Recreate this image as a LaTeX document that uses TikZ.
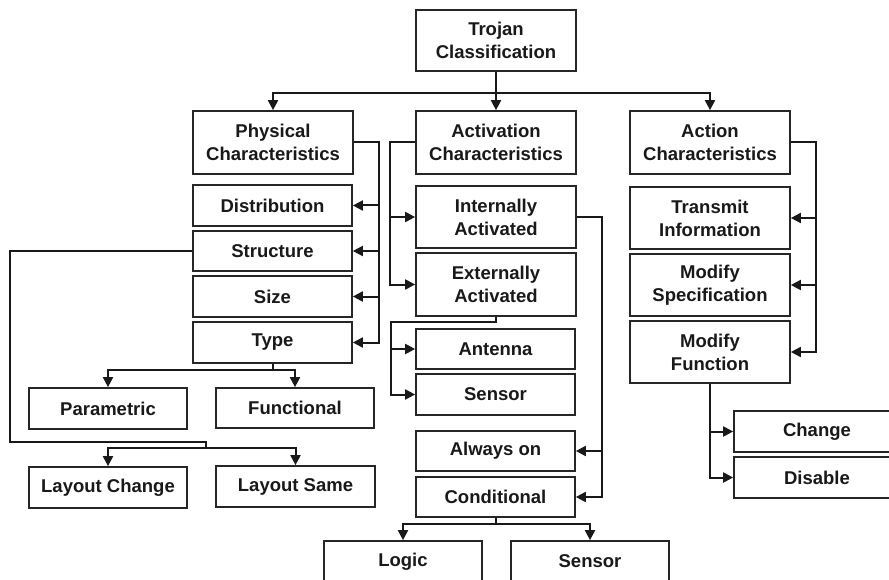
\documentclass[tikz,border=0pt]{standalone}
\usepackage{fontspec}
\setmainfont{Liberation Sans}
\usetikzlibrary{arrows.meta}
\begin{document}
\begin{tikzpicture}[x=1pt,y=1pt,
  box/.style={draw=black!85, line width=1.7pt, fill=white, inner sep=0pt, align=center,
    font=\fontsize{18.5}{23}\selectfont\bfseries, text=black!90},
  bw/.style={minimum width=160pt, minimum height=63pt},
  sw/.style={minimum width=159pt, minimum height=41pt},
  conn/.style={line width=2pt, draw=black!90},
  arr/.style={conn, -{Triangle[length=10pt,width=10pt]}}]
\useasboundingbox (0,0) rectangle (889,-580);
\clip (0,0) rectangle (889,-580);
% level 0/1
\node[box,minimum width=160pt,minimum height=61pt] (troj) at (496,-40.5) {Trojan\\Classification};
\node[box,bw] (phys) at (273,-142.5) {Physical\\Characteristics};
\node[box,bw] (act) at (496,-142.5) {Activation\\Characteristics};
\node[box,bw] (action) at (710,-142.5) {Action\\Characteristics};
% physical
\node[box,sw] (dist) at (272.5,-205.5) {Distribution};
\node[box,sw,minimum height=40pt] (struct) at (272.5,-251) {Structure};
\node[box,sw] (size) at (272.5,-296.5) {Size};
\node[box,sw] (type) at (272.5,-342.5) {Type};
\node[box,sw,minimum width=158pt] (param) at (108,-408.5) {Parametric};
\node[box,sw,minimum width=158pt,minimum height=40pt] (func) at (295,-408) {Functional};
\node[box,sw,minimum width=158pt] (lchange) at (108,-487.5) {Layout Change};
\node[box,sw] (lsame) at (295.5,-486.5) {Layout Same};
% activation
\node[box,minimum width=160pt,minimum height=62pt] (intact) at (496,-217) {Internally\\Activated};
\node[box,bw] (extact) at (496,-284.5) {Externally\\Activated};
\node[box,sw,minimum height=40pt] (antenna) at (495.5,-349) {Antenna};
\node[box,sw] (sensorA) at (495.5,-394.5) {Sensor};
\node[box,sw,minimum height=40pt] (always) at (495.5,-451) {Always on};
\node[box,sw,minimum height=40pt] (cond) at (495.5,-497) {Conditional};
\node[box,sw,minimum width=158pt] (logic) at (403,-561.5) {Logic};
\node[box,sw,minimum width=158pt] (sensorB) at (590,-561.5) {Sensor};
% action
\node[box,minimum width=160pt,minimum height=62pt] (transmit) at (710,-218) {Transmit\\Information};
\node[box,minimum width=160pt,minimum height=62pt] (modspec) at (710,-285) {Modify\\Specification};
\node[box,minimum width=160pt,minimum height=62pt] (modfunc) at (710,-352) {Modify\\Function};
\node[box,sw,minimum width=166pt] (change) at (817,-431.5) {Change};
\node[box,sw,minimum width=166pt] (disable) at (817,-477.5) {Disable};
% connectors: top
\coordinate (j1) at (496,-93);
\draw[conn] (troj.south) -- (j1);
\draw[arr] (j1) -| (phys.north);
\draw[arr] (j1) -- (act.north);
\draw[arr] (j1) -| (action.north);
% physical bus
\draw[arr] (phys.east) -- ++(25,0) |- (dist.east);
\draw[arr] (phys.east) -- ++(25,0) |- (struct.east);
\draw[arr] (phys.east) -- ++(25,0) |- (size.east);
\draw[arr] (phys.east) -- ++(25,0) |- (type.east);
% type
\draw[arr] (type.south) -- ++(0,-6) -| (param.north);
\draw[arr] (type.south) -- ++(0,-6) -| (func.north);
% structure
\coordinate (s1) at (10,-442);
\coordinate (s2) at (206,-448);
\draw[conn] (struct.west) -| (s1) -| (s2);
\draw[arr] (s2) -| (lchange.north);
\draw[arr] (s2) -| (lsame.north);
% activation bus
\draw[arr] (act.west) -- ++(-25,0) |- (intact.west);
\draw[arr] (act.west) -- ++(-25,0) |- (extact.west);
% internally
\draw[arr] (intact.east) -- ++(25,0) |- (always.east);
\draw[arr] (intact.east) -- ++(25,0) |- (cond.east);
% externally
\coordinate (eb) at (391,-322);
\draw[arr] (extact.south) |- (eb) |- (antenna.west);
\draw[arr] (eb) |- (sensorA.west);
% conditional
\draw[arr] (cond.south) -- ++(0,-6) -| (logic.north);
\draw[arr] (cond.south) -- ++(0,-6) -| (sensorB.north);
% action bus
\draw[arr] (action.east) -- ++(25,0) |- (transmit.east);
\draw[arr] (action.east) -- ++(25,0) |- (modspec.east);
\draw[arr] (action.east) -- ++(25,0) |- (modfunc.east);
% modify function
\draw[arr] (modfunc.south) |- (change.west);
\draw[arr] (modfunc.south) |- (disable.west);
\end{tikzpicture}
\end{document}
